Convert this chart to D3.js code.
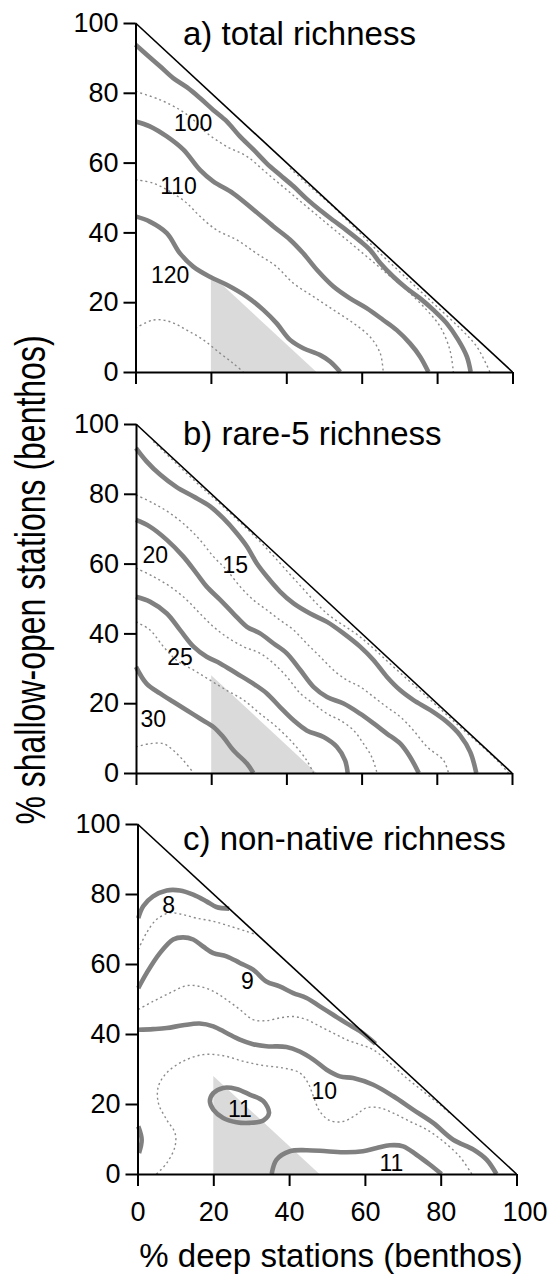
<!DOCTYPE html>
<html>
<head>
<meta charset="utf-8">
<script src="https://cdn.jsdelivr.net/npm/d3@7"></script>
<style>
  html, body { margin: 0; padding: 0; background: #fff; }
  svg { display: block; }
  text { font-family: "Liberation Sans", Arial, Helvetica, sans-serif; fill: #000; }
</style>
</head>
<body>
<svg id="chart" width="556" height="1275"></svg>
<script>
// ---------------- data ----------------
const xTicks = [0, 20, 40, 60, 80, 100];
const yTicks = [0, 20, 40, 60, 80, 100];
const panelTitles = ["a) total richness", "b) rare-5 richness", "c) non-native richness"];
const xAxisTitle = "% deep stations (benthos)";
const yAxisTitle = "% shallow-open stations (benthos)";
const shadeTriangle = [[20, 0], [20, 28], [48, 0]];

// a) total richness
const totalSolid = [
  [[0,93.8],[3,90.9],[6.5,87.6],[10,84.2],[13.6,81.6],[17.1,78.5],[20.6,75.1],[24.2,71.8],[27.7,67.5],[31.3,63.7],[34.8,59.8],[38.3,56.5],[41.9,53.2],[45.4,49.6],[48.9,46.4],[52.5,43.4],[56,40.6],[59.6,37.5],[62.2,35],[64.9,31.2],[68.4,27.3],[71.9,24],[75.5,21.1],[79,17.8],[82.5,14],[85.6,9.2],[87.9,4.4],[88.9,0]],
  [[0,71.8],[3.8,70.4],[8.3,67.5],[12.7,63.7],[17.1,57.9],[20.6,54.6],[25.9,51.2],[31.3,46.5],[36.6,41.7],[41,37.9],[44.5,34],[48.1,29.3],[52.5,24.5],[56.9,21.1],[61.3,18.3],[65.7,14.9],[69.3,12],[72.8,8.2],[75.5,4.4],[77.7,0]],
  [[0,44.6],[3.8,43.1],[8.3,39.8],[11.8,34],[15.3,30.2],[19.7,27.3],[24.2,25],[29.5,21.6],[33.9,17.8],[37.4,14],[41,9.2],[44.5,6.8],[48.9,4.9],[51.6,3],[54.3,0]]
];
const totalDotted = [
  [[41,58.4],[46.3,53.1],[51.6,48.2],[57.8,41.7],[64.9,34],[71.9,26.9],[79,19.7],[86.1,12.5],[90.5,7.3],[94,0]],
  [[0,80.4],[6.5,78],[11.8,75.1],[15.3,72.3],[18.9,68.5],[24.2,64.6],[29.5,61.8],[34.8,57],[40.1,52.2],[45.4,47.4],[50.7,42.6],[56,37.9],[61.3,33.1],[66.6,28.3],[71.9,23.5],[77.2,17.8],[80.8,13],[83.4,6.3],[84.3,0]],
  [[0,55.1],[4.7,54.1],[9.2,51.7],[13.6,48.4],[17.1,44.6],[21.5,40.7],[26.8,37.9],[32.1,34],[37.4,30.2],[41.9,25.4],[47.2,21.6],[52.5,17.8],[57.8,14],[62.2,10.1],[64.9,5.4],[65.7,0]],
  [[0,12.5],[4.7,14.9],[9.2,14.4],[13.6,12],[18,9.2],[22.4,5.4],[25.9,2.5],[28.6,0]]
];
const totalLabels = [[15.3,71.3,"100"],[11.4,53.2,"110"],[9.2,27.8,"120"]];

// b) rare-5 richness
const rareSolid = [
  [[0,93.1],[2.8,89.3],[6.4,85.5],[10.8,81.9],[15.3,79.2],[19.7,76.4],[23.2,73],[26.8,68.7],[29.5,64.9],[32.1,60.1],[34.8,56.3],[38.3,52],[41.9,48.6],[46.3,45.7],[50.8,43.3],[55.2,40],[59.6,36.2],[63.2,32.3],[66.7,27.6],[70.3,23.7],[73.8,20.9],[78.3,18],[82.7,14.6],[86.2,10.8],[88.9,6],[90.5,0]],
  [[0,72.5],[3.7,70.6],[8.2,66.8],[12.6,62],[16.1,57.2],[18.8,53.4],[22.4,49.6],[25.9,45.7],[29.5,41.9],[33,40],[36.6,37.1],[40.1,34.3],[43.7,29.5],[47.2,24.7],[50.8,21.8],[55.2,19.9],[59.6,17],[63.2,14.2],[66.7,11.3],[70.3,8.4],[72.9,4.6],[75.2,0]],
  [[0,50.5],[3.7,49.1],[8.2,45.7],[11.7,41],[15.3,36.2],[18.8,33.3],[22.4,31.4],[26.8,28.5],[31.2,25.6],[34.8,22.8],[38.3,18.9],[41.9,15.1],[45.4,12.2],[49.9,10.3],[53.4,7.5],[55.6,3.6],[56.3,0]],
  [[0,30.4],[2.8,25.6],[6.4,22.8],[9.9,20.4],[13.5,18],[17,15.6],[20.6,13.2],[23.2,10.3],[25.9,6.5],[29.5,2.7],[31.2,0]]
];
const rareDotted = [
  [[4.6,95],[15.3,84],[24.1,75.4],[33,66.3],[41.9,55.8],[50.8,45.7],[59.6,39],[68.5,30.4],[77.4,21.8],[86.2,13.2],[95.1,4.6],[99.1,0]],
  [[0,79.7],[4.6,77.3],[9.1,74.4],[13.5,70.6],[17,66.8],[20.6,62],[24.1,58.2],[27.7,53.4],[31.2,49.6],[34.8,46.7],[38.3,43.8],[41.9,41],[45.4,37.1],[49,33.3],[52.5,29.5],[56.1,26.6],[59.6,24.7],[63.2,21.8],[66.7,18.9],[70.3,16.1],[73.8,12.2],[77.4,7.5],[81.8,3.6],[83.1,0]],
  [[0,58.7],[4.6,56.3],[9.1,53.4],[13.5,49.6],[17,45.7],[20.6,41.9],[24.1,39],[28.6,36.2],[33,34.3],[36.6,31.4],[40.1,27.6],[43.7,22.8],[47.2,19.9],[50.8,17],[54.3,15.1],[57.9,12.2],[60.5,8.4],[62.7,4.6],[64.1,0]],
  [[0,43.3],[3.7,41],[7.3,36.2],[10.8,32.3],[15.3,29.5],[19.7,26.6],[24.1,23.7],[28.6,20.9],[33,17],[37.4,13.2],[41.9,8.4],[45.4,3.6],[47.2,0]],
  [[0,7.5],[3.7,8.4],[7.3,8.4],[9.9,6.5],[12.6,3.6],[15.3,0]]
];
const rareLabels = [[5.1,62.5,"20"],[26.4,59.6,"15"],[11.7,33.3,"25"],[4.6,15.6,"30"]];

// c) non-native richness
const nonNativeSolid = [
  [[0.2,73.1],[1.5,76.5],[4.1,79.3],[7.7,81],[11.2,81],[14.7,79.8],[18.2,77.9],[20.8,76.3],[24.2,75.8]],
  [[0.2,53.1],[2.4,57.4],[5.9,63.1],[9.4,67],[12,67.6],[14.7,67],[17.3,65],[20,63.1],[23.5,62.2],[27,60.3],[30.5,58.4],[34,55],[37.5,53.6],[41.1,51.7],[44.6,50.3],[48.1,47.9],[51.6,45.5],[55.1,43.1],[58.7,40.8],[62.8,37.2]],
  [[0.2,41.2],[4.1,41.4],[7.7,41.7],[12,42.5],[16.4,43],[20,42.2],[23.5,40.3],[27,38.4],[30.5,37.1],[34,36.5],[39.3,36.3],[42.8,35],[46.4,32.7],[49.9,29.8],[53.4,27.9],[56.9,27.4],[62.2,25.5],[67.5,22.2],[72.7,18.4],[78,14.6],[83.3,9.8],[88.6,7],[92.1,4.1],[94.7,0]],
  [[35.4,0],[36.7,4.1],[40.2,6.5],[44.6,6.8],[49.9,6.5],[55.1,6.2],[59.5,6.5],[63.1,7.4],[66.6,8.2],[70.1,7.9],[73.6,5.5],[77.1,2.7],[80.2,0]],
  [[0.2,13.6],[1.1,9.8],[0.4,6]]
];
const nonNativeLoops = [
  [[19.1,20.8],[20,23.1],[22.6,24.6],[26.1,24.3],[29.6,22.7],[33.2,20.8],[34.7,17.4],[33.2,15.3],[29.6,14.6],[26.1,14.8],[22.6,16],[20,18.4]]
];
const nonNativeDotted = [
  [[0.2,64.1],[2.4,68.9],[5,72.7],[8.5,74.6],[12,74.1],[15.6,73.1],[20,72.2],[24.4,70.8],[28.8,69.3],[31.4,68.4]],
  [[0.2,47],[4.1,49.3],[8.5,51.7],[12.9,53.8],[16.4,53.6],[20,52.2],[23.5,49.8],[27,47],[30.5,44.1],[34,43.8],[37.6,44.6],[41.1,45],[44.6,44.1],[48.1,42.2],[51.6,40.3],[55.1,38.4],[58.7,37],[62.2,35.5],[66.6,31.7],[71,27.4],[75.4,23.6],[79.8,19.8],[82.8,17]],
  [[5,0],[7.7,3.1],[9.9,7.9],[9.9,11.7],[7.7,15.5],[5.5,20.3],[5.5,25],[7.7,28.9],[12,32.2],[17.3,34.1],[22.6,33.8],[27.9,32.2],[33.2,31],[38.4,30.3],[42.8,28.9],[45,26],[46.4,22.2],[48.1,17.9],[50.7,15.3],[54.2,15],[57.8,17],[60.4,18.9],[63.9,18.9],[67.5,17.4],[71.9,15],[76.3,12.7],[80.7,9.3],[85,5],[88.2,0]]
];
const nonNativeLabels = [[8.2,76.9,"8"],[29,55.2,"9"],[49.3,23.6,"10"],[27,18.6,"11"],[67,3.1,"11"]];

// ---------------- layout ----------------
const panelLayout = [
  { x0: 135.5, x1: 512.5, yTop: 23,  yBottom: 372,  titleY: 45 },
  { x0: 136,   x1: 512,   yTop: 424, yBottom: 773,  titleY: 445 },
  { x0: 137.5, x1: 516.5, yTop: 824, yBottom: 1174, titleY: 850 }
];
const panelData = [
  { solid: totalSolid, loops: [], dotted: totalDotted, labels: totalLabels },
  { solid: rareSolid, loops: [], dotted: rareDotted, labels: rareLabels },
  { solid: nonNativeSolid, loops: nonNativeLoops, dotted: nonNativeDotted, labels: nonNativeLabels }
];

const svg = d3.select("#chart");
const solidColor = "#808080";
const dottedColor = "#8a8a8a";

panelData.forEach((pd, i) => {
  const L = panelLayout[i];
  const x = d3.scaleLinear().domain([0, 100]).range([L.x0, L.x1]);
  const y = d3.scaleLinear().domain([0, 100]).range([L.yBottom, L.yTop]);
  const g = svg.append("g");

  const line = d3.line().x(d => x(d[0])).y(d => y(d[1])).curve(d3.curveCatmullRom.alpha(0.5));
  const loop = d3.line().x(d => x(d[0])).y(d => y(d[1])).curve(d3.curveCatmullRomClosed.alpha(0.5));
  const poly = d3.line().x(d => x(d[0])).y(d => y(d[1]));

  // shaded region
  g.append("path").attr("d", poly(shadeTriangle) + "Z").attr("fill", "#dadada").attr("stroke", "none");

  // dotted contours
  g.selectAll(".dot").data(pd.dotted).join("path")
    .attr("d", line).attr("fill", "none")
    .attr("stroke", dottedColor).attr("stroke-width", 1.4)
    .attr("stroke-dasharray", "2,3");

  // solid contours
  g.selectAll(".sol").data(pd.solid).join("path")
    .attr("d", line).attr("fill", "none")
    .attr("stroke", solidColor).attr("stroke-width", 4.6)
    .attr("stroke-linecap", "butt").attr("stroke-linejoin", "round");
  g.selectAll(".loop").data(pd.loops).join("path")
    .attr("d", loop).attr("fill", "none")
    .attr("stroke", solidColor).attr("stroke-width", 4.6);

  // contour labels
  g.selectAll(".lab").data(pd.labels).join("text")
    .attr("x", d => x(d[0])).attr("y", d => y(d[1]))
    .attr("text-anchor", "middle").attr("dominant-baseline", "central")
    .style("font-size", "23px").text(d => d[2]);

  // hypotenuse
  g.append("path").attr("d", poly([[0, 100], [100, 0]]))
    .attr("stroke", "#000").attr("stroke-width", 1.6).attr("fill", "none");

  // axes
  const yAxis = d3.axisLeft(y).tickValues(yTicks).tickSize(12).tickSizeOuter(0).tickPadding(5);
  const ya = g.append("g").attr("transform", `translate(${L.x0},0)`).call(yAxis);
  const xAxis = d3.axisBottom(x).tickValues(xTicks).tickSize(12).tickSizeOuter(0).tickPadding(16);
  if (i < 2) xAxis.tickFormat("");
  const xa = g.append("g").attr("transform", `translate(0,${L.yBottom})`).call(xAxis);
  [ya, xa].forEach(a => {
    a.selectAll("path.domain").attr("stroke", "#000").attr("stroke-width", 2);
    a.selectAll(".tick line").attr("stroke", "#000").attr("stroke-width", 2);
    a.selectAll(".tick text").style("font-size", "27px")
      .style("font-family", "'Liberation Sans', Arial, sans-serif").attr("fill", "#000");
  });
  // last x label sits slightly right of its tick in the reference
  xa.selectAll(".tick text").filter(d => d === 100).attr("dx", 8);

  // panel title
  g.append("text").attr("x", 183).attr("y", L.titleY)
    .style("font-size", "33px").text(panelTitles[i]);
});

// axis titles
svg.append("text").attr("x", 331).attr("y", 1267).attr("text-anchor", "middle")
  .style("font-size", "33px").text(xAxisTitle);
svg.append("text").attr("transform", "translate(45,580) rotate(-90) scale(1,1.3)")
  .attr("text-anchor", "middle").style("font-size", "32px").text(yAxisTitle);
</script>
</body>
</html>
